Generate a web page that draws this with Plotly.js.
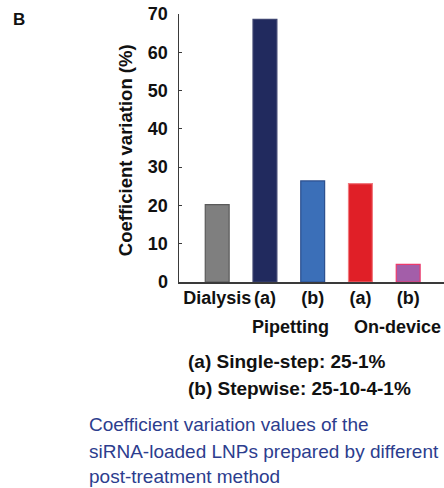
<!DOCTYPE html>
<html>
<head>
<meta charset="utf-8">
<script src="https://cdn.plot.ly/plotly-3.0.1.min.js"></script>
<style>html,body{margin:0;padding:0;background:#fff;}#chart{width:444px;height:488px;}</style>
</head>
<body>
<div id="chart"></div>
<script>
// ---- data ----
var categories = ["Dialysis", "(a)", "(b)", "(a)", "(b)"];
var cvValues = [20.2, 68.6, 26.4, 25.7, 4.6];
var groupLabels = ["Pipetting", "On-device"];
var yTickValues = [0, 10, 20, 30, 40, 50, 60, 70];
var legendLines = ["(a) Single-step: 25-1%", "(b) Stepwise: 25-10-4-1%"];
var captionLines = ["Coefficient variation values of the", "siRNA-loaded LNPs prepared by different", "post-treatment method"];
var panelLabel = "B";
var yTitle = "Coefficient variation (%)";

// ---- styles ----
var W = 444, H = 488;
var L = 179, R = 444, T = 14, B = 281.7;
function px2x(p) { return (p - L) / (R - L); }
function px2y(p) { return (B - p) / (B - T); }
var fillColors = ["#7f7f7f", "#212a5e", "#3b6fb8", "#e01f27", "#a35ea9"];
var lineColors = ["#5a5a5a", "#3d4470", "#2c4f8e", "#f07a7f", "#ec3a6c"];
var FONT = "Liberation Sans, Arial, sans-serif";
var bold = {family: FONT, size: 18, color: "#111", weight: "bold"};
var boldLegend = {family: FONT, size: 19, color: "#111", weight: "bold"};

var xs = categories.map(function (c, i) { return i; });

var trace = {
  type: "bar",
  x: xs,
  y: cvValues,
  width: 0.5,
  marker: {color: fillColors, line: {color: lineColors, width: 1.2}},
  hoverinfo: "skip"
};

var annotations = [];
annotations.push({text: panelLabel, xref: "paper", yref: "paper", x: px2x(19), y: px2y(19.5),
  xanchor: "center", yanchor: "middle", showarrow: false, font: {family: FONT, size: 17, color: "#111", weight: "bold"}});
annotations.push({text: yTitle, xref: "paper", yref: "paper", x: px2x(125), y: px2y(150),
  xanchor: "center", yanchor: "middle", textangle: -90, showarrow: false, font: {family: FONT, size: 18.5, color: "#111", weight: "bold"}});
var groupCenters = [290, 397];
groupLabels.forEach(function (g, i) {
  annotations.push({text: g, xref: "paper", yref: "paper", x: px2x(groupCenters[i]), y: px2y(327),
    xanchor: "center", yanchor: "middle", showarrow: false, font: bold});
});
var legendY = [361, 388];
legendLines.forEach(function (t, i) {
  annotations.push({text: t, xref: "paper", yref: "paper", x: px2x(186), y: px2y(legendY[i]),
    xanchor: "left", yanchor: "middle", showarrow: false, font: boldLegend});
});
var capY = [424, 451, 476];
captionLines.forEach(function (t, i) {
  annotations.push({text: t, xref: "paper", yref: "paper", x: px2x(87), y: px2y(capY[i]),
    xanchor: "left", yanchor: "middle", showarrow: false, font: {family: FONT, size: 19, color: "#2c3d8e"}});
});

var layout = {
  width: W, height: H,
  margin: {l: L, r: W - R, t: T, b: H - B},
  paper_bgcolor: "#fff", plot_bgcolor: "#fff",
  showlegend: false,
  bargap: 0,
  xaxis: {
    range: [-0.8, 4.75], showgrid: false, zeroline: false,
    showline: true, linecolor: "#3a3a3a", linewidth: 2,
    ticks: "", tickmode: "array", tickvals: xs, ticktext: categories,
    tickfont: bold, ticklabelstandoff: -2, fixedrange: true
  },
  yaxis: {
    range: [0, 70], showgrid: false, zeroline: false,
    showline: true, linecolor: "#3a3a3a", linewidth: 1.5,
    ticks: "inside", ticklen: 3, tickcolor: "#3a3a3a",
    tickmode: "array", tickvals: yTickValues,
    tickfont: bold, ticklabelstandoff: 6, fixedrange: true
  },
  annotations: annotations
};

Plotly.newPlot("chart", [trace], layout, {displayModeBar: false, staticPlot: true});
</script>
</body>
</html>
